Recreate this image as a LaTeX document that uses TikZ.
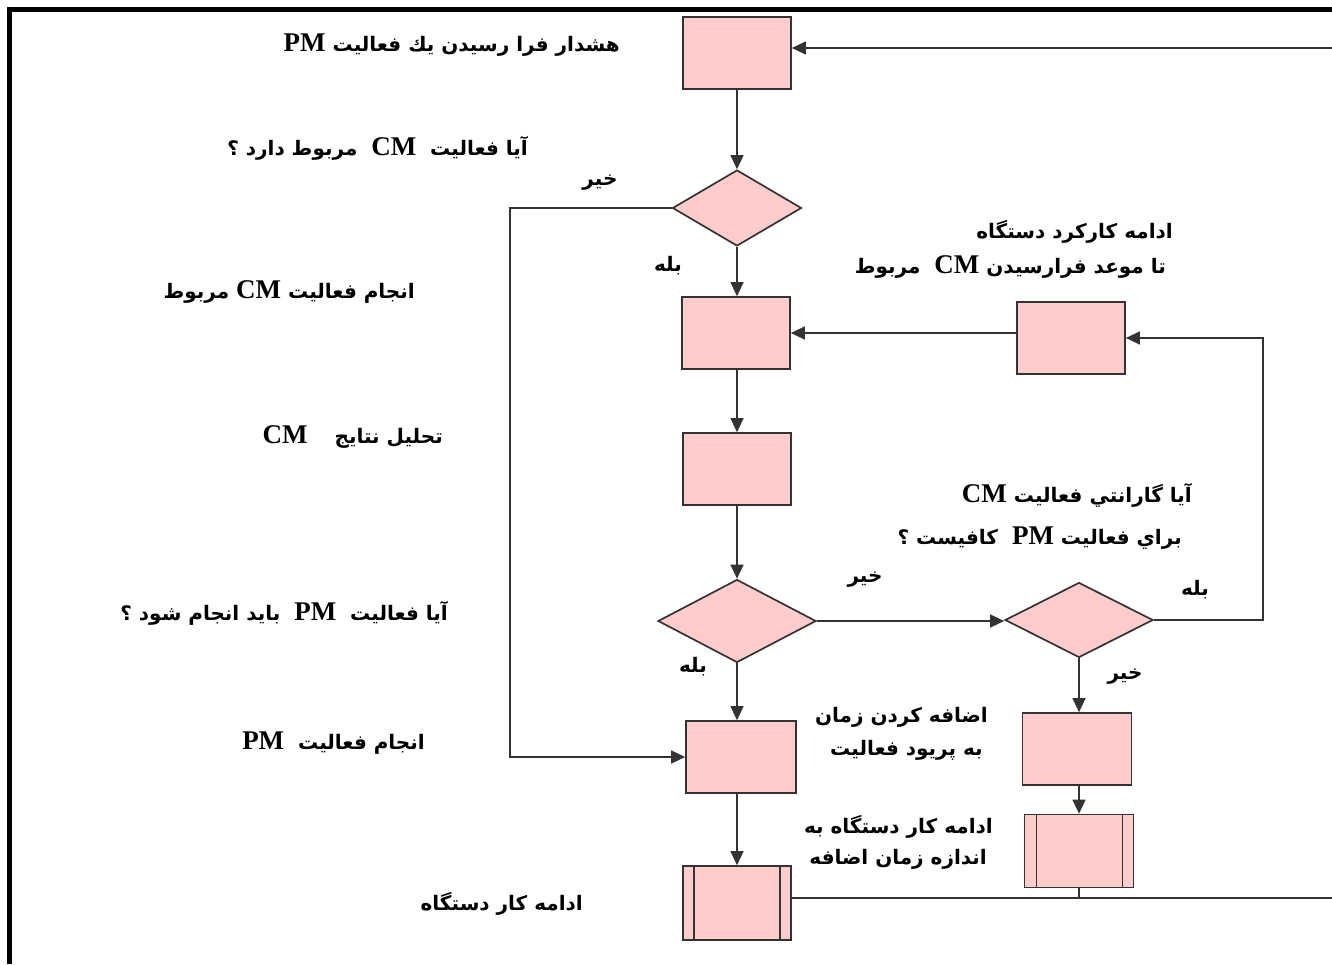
\documentclass[tikz,border=0pt]{standalone}
\usepackage{fontspec}
\usetikzlibrary{shapes.geometric,arrows.meta}
\TeXXeTstate=1
\newfontfamily\arabicfont[Script=Arabic]{DejaVu Sans}
\newfontfamily\latinfont{Liberation Serif}
\newcommand{\fa}[1]{\beginR #1\endR}
\newcommand{\lt}[1]{\beginL{\latinfont\bfseries\fontsize{27pt}{29pt}\selectfont #1}\endL{}}
\definecolor{boxpink}{RGB}{255,204,204}
\definecolor{linegray}{RGB}{51,51,51}

\begin{document}
\begin{tikzpicture}[x=1pt,y=-1pt,
    >={Triangle[length=14pt,width=13pt]},
    box/.style={draw=linegray,fill=boxpink,line width=1.7pt,minimum width=108pt,minimum height=72pt,inner sep=0},
    dec/.style={diamond,draw=linegray,fill=boxpink,line width=1.7pt,inner sep=0},
    lbl/.style={font=\fontsize{20pt}{23pt}\selectfont\arabicfont\bfseries,inner sep=0},
    link/.style={draw=linegray,line width=1.4pt}]
    \useasboundingbox (0,0) rectangle (1332,964);
    \draw [line width=5pt] (9.5,964) -- (9.5,9.5) -- (1332,9.5);

    \node (A) at (737,53) [box] {};
    \node (D1) at (737,208) [dec,minimum width=129pt,minimum height=76pt] {};
    \node (B) at (736,333) [box] {};
    \node (C) at (1071,338) [box] {};
    \node (T) at (737,469) [box] {};
    \node (D2) at (737,621) [dec,minimum width=158pt,minimum height=83pt] {};
    \node (D3) at (1079,620) [dec,minimum width=148pt,minimum height=75pt] {};
    \node (E) at (741,757) [box,minimum width=110pt] {};
    \node (F) at (1077,749) [box,minimum width=109pt] {};
    \node (G) at (1079,851) [box,minimum width=109pt,minimum height=73pt] {};
    \node (H) at (737,903) [box,minimum height=74pt] {};
    \draw [link] ([xshift=13pt]G.north west) -- ([xshift=13pt]G.south west);
    \draw [link] ([xshift=-12pt]G.north east) -- ([xshift=-12pt]G.south east);
    \draw [link] ([xshift=12pt]H.north west) -- ([xshift=12pt]H.south west);
    \draw [link] ([xshift=-12pt]H.north east) -- ([xshift=-12pt]H.south east);

    \coordinate (R1) at (1332,48);
    \coordinate (R2) at (1332,898);
    \coordinate (K1) at (510,208);
    \coordinate (K2) at (1263,620);

    \draw [link,->] (R1) -- (R1 -| A.east);
    \draw [link,->] (A.south) -- (D1.north);
    \draw [link,->] (D1.west) -- (K1) |- (E.west);
    \draw [link,->] (D1.south) -- (D1.south |- B.north);
    \draw [link,->] (C.west |- B.east) -- (B.east);
    \draw [link,->] (D3.east) -- (K2) |- (C.east);
    \draw [link,->] (B.south -| T.north) -- (T.north);
    \draw [link,->] (T.south) -- (D2.north);
    \draw [link,->] (D2.east) -- (D2.east -| D3.west);
    \draw [link,->] (D2.south) -- (D2.south |- E.north);
    \draw [link,->] (D3.south) -- (D3.south |- F.north);
    \draw [link,->] (F.south -| G.north) -- (G.north);
    \draw [link,->] (E.south -| H.north) -- (H.north);
    \draw [link] (R2 -| H.east) -- (R2);
    \draw [link] (G.south) -- (G.south |- R2);

    \node (t1) at (620,45) [lbl,anchor=east] {\fa{هشدار فرا رسيدن يك فعاليت \lt{PM}}};
    \node (t2) at (528,148) [lbl,anchor=east] {\fa{آيا فعاليت \ \lt{CM} \ مربوط دارد ؟}};
    \node (t3) at (415,292) [lbl,anchor=east] {\fa{انجام فعاليت \lt{CM} مربوط}};
    \node (t4) at (443,437) [lbl,anchor=east] {\fa{تحليل نتايج \quad\lt{CM}}};
    \node (t5) at (448,613) [lbl,anchor=east] {\fa{آيا فعاليت \ \lt{PM} \ بايد انجام شود ؟}};
    \node (t6) at (425,743) [lbl,anchor=east] {\fa{انجام فعاليت \ \lt{PM}}};
    \node (t7) at (583,904) [lbl,anchor=east] {\fa{ادامه كار دستگاه}};
    \node (t8) at (1173,232) [lbl,anchor=east] {\fa{ادامه كاركرد دستگاه}};
    \node (t9) at (1166,267) [lbl,anchor=east] {\fa{تا موعد فرارسيدن \lt{CM} \ مربوط}};
    \node (t10) at (1192,495) [lbl,anchor=east] {\fa{آيا گارانتي فعاليت \lt{CM}}};
    \node (t11) at (1182,538) [lbl,anchor=east] {\fa{براي فعاليت \lt{PM} \ كافيست ؟}};
    \node (t12) at (988,717) [lbl,anchor=east] {\fa{اضافه كردن زمان}};
    \node (t13) at (983,750) [lbl,anchor=east] {\fa{به پريود فعاليت}};
    \node (t14) at (993,827) [lbl,anchor=east] {\fa{ادامه كار دستگاه به}};
    \node (t15) at (987,859) [lbl,anchor=east] {\fa{اندازه زمان اضافه}};

    \node (n1) at (600,183) [lbl] {\fa{خير}};
    \node (y1) at (668,266) [lbl] {\fa{بله}};
    \node (n2) at (865,580) [lbl] {\fa{خير}};
    \node (y2) at (1195,590) [lbl] {\fa{بله}};
    \node (n3) at (1125,677) [lbl] {\fa{خير}};
    \node (y3) at (693,667) [lbl] {\fa{بله}};
\end{tikzpicture}
\end{document}
